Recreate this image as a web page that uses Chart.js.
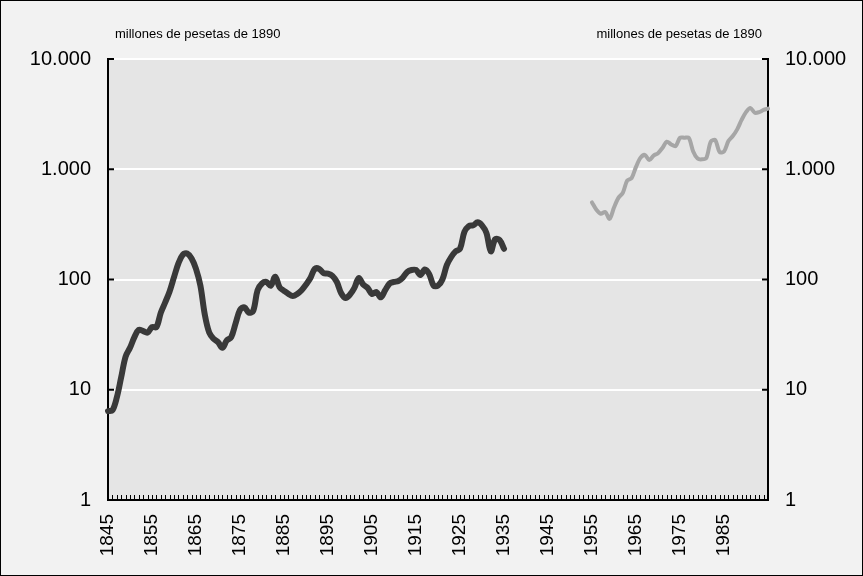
<!DOCTYPE html>
<html>
<head>
<meta charset="utf-8">
<script src="https://cdn.jsdelivr.net/npm/chart.js@4"></script>
<style>
  html, body { margin: 0; padding: 0; background: #f2f2f2; }
  canvas { display: block; }
</style>
</head>
<body>
<canvas id="chart" width="863" height="576"></canvas>
<script>
// PIB industrial, millones de pesetas de 1890 (escala logarítmica)

const firstYear = 1845;
const lastYear = 1995;

// serie 1845-1935
const startA = 1845;
const serieA = [
    6.4, 6.5, 8.5, 13, 20, 24, 30, 35, 34, 33,          // 1845-1854
    37, 37, 50, 62, 78, 105, 140, 168, 172, 155,        // 1855-1864
    125, 88, 48, 33, 29, 27, 24, 28, 30, 40,            // 1865-1874
    53, 56, 50, 52, 80, 92, 95, 88, 106, 85,            // 1875-1884
    79, 74, 71, 74, 80, 90, 103, 125, 125, 114,         // 1885-1894
    113, 108, 95, 75, 68, 73, 84, 103, 90, 84,          // 1895-1904
    74, 77, 69, 80, 92, 95, 97, 104, 117, 122,          // 1905-1914
    122, 110, 123, 112, 88, 88, 100, 135, 160, 180,     // 1915-1924
    190, 270, 305, 310, 330, 310, 265, 180, 232, 228,   // 1925-1934
    190                                                 // 1935
];

// serie 1955-1995
const startB = 1955;
const serieB = [
    500, 430, 395, 410, 355, 450, 550, 610, 790, 830,           // 1955-1964
    1050, 1270, 1350, 1210, 1330, 1400, 1560, 1780, 1680, 1620, // 1965-1974
    1930, 1930, 1930, 1450, 1250, 1230, 1270, 1780, 1840, 1430, // 1975-1984
    1450, 1800, 2000, 2300, 2800, 3300, 3600, 3250, 3300, 3450, // 1985-1994
    3550                                                        // 1995
];

const yTicks = [1, 10, 100, 1000, 10000];
const unitLabel = 'millones de pesetas de 1890';

const years = [];
for (let y = firstYear; y <= lastYear; y++) years.push(y);

function onYears(start, values) {
    return years.map(y => {
        const i = y - start;
        return i >= 0 && i < values.length ? values[i] : null;
    });
}

// separador de miles con punto
function fmtTick(v) {
    return String(v).replace(/\B(?=(\d{3})+(?!\d))/g, '.');
}

const FONT = '"Liberation Sans", Arial, sans-serif';

const decorPlugin = {
    id: 'decor',
    beforeDraw(chart) {
        const ctx = chart.ctx;
        ctx.save();
        ctx.fillStyle = '#f2f2f2';
        ctx.fillRect(0, 0, chart.width, chart.height);
        const a = chart.chartArea;
        ctx.fillStyle = '#e5e5e5';
        ctx.fillRect(a.left, a.top, a.right - a.left, a.bottom - a.top);
        ctx.restore();
    },
    afterDraw(chart) {
        const ctx = chart.ctx;
        const a = chart.chartArea;
        const x = chart.scales.x;
        const yl = chart.scales.y;
        const yr = chart.scales.y1;
        ctx.save();
        ctx.strokeStyle = '#000';

        // marcas menores (años) hacia dentro
        ctx.lineWidth = 1;
        ctx.beginPath();
        years.forEach((yr0, i) => {
            const px = Math.round(x.getPixelForValue(i)) + 0.5;
            ctx.moveTo(px, a.bottom);
            ctx.lineTo(px, a.bottom - 5);
        });
        ctx.stroke();

        // marcas del eje y hacia dentro
        ctx.lineWidth = 2;
        ctx.beginPath();
        yTicks.forEach(v => {
            const pl = yl.getPixelForValue(v);
            ctx.moveTo(a.left, pl);
            ctx.lineTo(a.left + 6, pl);
            const pr = yr.getPixelForValue(v);
            ctx.moveTo(a.right, pr);
            ctx.lineTo(a.right - 6, pr);
        });
        ctx.stroke();

        // unidades
        ctx.fillStyle = '#000';
        ctx.font = '13px ' + FONT;
        ctx.textBaseline = 'alphabetic';
        ctx.textAlign = 'left';
        ctx.fillText(unitLabel, 115, 38);
        ctx.textAlign = 'right';
        ctx.fillText(unitLabel, 762, 38);

        // marco exterior
        ctx.lineWidth = 1;
        ctx.strokeRect(0.5, 0.5, chart.width - 1, chart.height - 1);
        ctx.restore();
    }
};

function yAxis(position, width) {
    return {
        type: 'logarithmic',
        position: position,
        min: 1,
        max: 10000,
        afterBuildTicks: s => { s.ticks = yTicks.map(v => ({ value: v })); },
        afterFit: s => { s.width = width; },
        ticks: {
            color: '#000',
            font: { family: FONT, size: 20 },
            padding: 17,
            callback: v => fmtTick(v)
        },
        grid: {
            color: '#ffffff',
            lineWidth: 2,
            drawTicks: false,
            drawOnChartArea: position === 'left'
        },
        border: { display: true, color: '#000', width: 2 }
    };
}

new Chart(document.getElementById('chart'), {
    type: 'line',
    data: {
        labels: years,
        datasets: [
            {
                label: '1845-1935',
                data: onYears(startA, serieA),
                borderColor: '#393939',
                borderWidth: 6,
                tension: 0.35,
                pointRadius: 0,
                borderCapStyle: 'round',
                borderJoinStyle: 'round',
                spanGaps: false,
                yAxisID: 'y'
            },
            {
                label: '1955-1995',
                data: onYears(startB, serieB),
                borderColor: '#a6a6a6',
                borderWidth: 4,
                tension: 0.3,
                pointRadius: 0,
                borderCapStyle: 'round',
                borderJoinStyle: 'round',
                spanGaps: false,
                yAxisID: 'y'
            }
        ]
    },
    options: {
        responsive: false,
        animation: false,
        devicePixelRatio: 1,
        layout: { padding: { top: 59, left: 0, right: 0, bottom: 0 } },
        scales: {
            x: {
                type: 'category',
                offset: false,
                afterFit: s => { s.height = 76; },
                ticks: {
                    autoSkip: false,
                    minRotation: 90,
                    maxRotation: 90,
                    padding: 14,
                    color: '#000',
                    font: { family: FONT, size: 19 },
                    callback: function(val, i) {
                        const y = years[i];
                        return (y - firstYear) % 10 === 0 && y < lastYear ? String(y) : '';
                    }
                },
                grid: { display: false, drawTicks: false },
                border: { display: true, color: '#000', width: 2 }
            },
            y: yAxis('left', 108),
            y1: yAxis('right', 95)
        },
        plugins: {
            legend: { display: false },
            tooltip: { enabled: false }
        }
    },
    plugins: [decorPlugin]
});
</script>
</body>
</html>
